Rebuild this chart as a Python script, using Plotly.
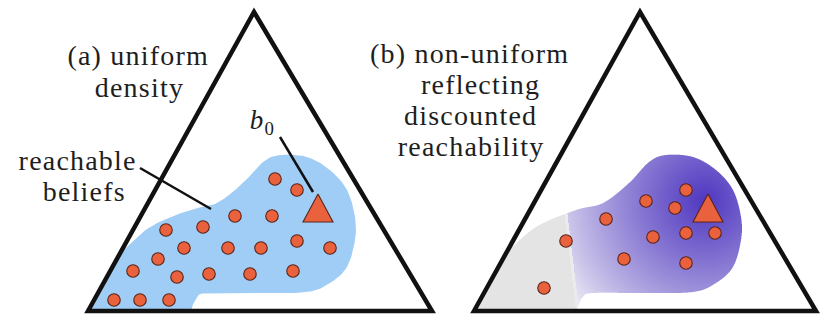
import numpy as np
import plotly.graph_objects as go
import zlib, struct, base64

W, H = 823, 317

# ---------------- data (image coordinates, y downward) ----------------
tri_a_x = [88, 254, 432]
tri_a_y = [311, 12, 311]
tri_b_x = [474, 640, 816]
tri_b_y = [311, 12, 311]

# reachable-belief region outline (panel a); panel b uses same outline shifted
blob_x = [150, 190, 217, 243, 263, 280, 307, 330, 347, 355, 355, 347, 330, 307, 257, 207, 197, 192, 191]
blob_y = [227, 210, 203, 183, 162, 155, 157, 170, 190, 217, 240, 267, 283, 292, 293, 293, 297, 307, 311]
blob_start_y = 253

dots_a_x = [275, 297, 235, 272, 166, 203, 184, 228, 261, 297, 330, 158, 133, 177, 209, 250, 293, 114, 140, 169]
dots_a_y = [179, 190, 216, 216, 230, 227, 248, 248, 248, 241, 248, 259, 271, 277, 274, 274, 271, 300, 300, 300]

dots_b_x = [686, 646, 675, 606, 566, 653, 686, 715, 624, 686, 544]
dots_b_y = [190, 201, 208, 219, 241, 237, 233, 233, 259, 263, 288]

b0_a = (318, 210)
b0_b = (708, 210)

lbl_a = [("(a) uniform", 138, 55), ("density", 139, 87)]
lbl_reach = [("reachable", 77, 160), ("beliefs", 84, 191)]
lbl_b = [("(b) non-uniform", 469, 53), ("reflecting", 480, 84), ("discounted", 470, 115), ("reachability", 471, 146)]
lbl_b0 = ("<i>b</i><sub>0</sub>", 262, 122)

reach_line_x = [140, 211]
reach_line_y = [168, 209]
b0_line_x = [280, 313]
b0_line_y = [137, 192]

BLUE = "#9fcdf5"
DOT = "#ea623d"
DOT_EDGE = "#5a2418"
FONT = "Liberation Serif"


def catmull(px, py, n=14):
    P = np.column_stack([px, py]).astype(float)
    P = np.vstack([P[0], P, P[-1]])
    out = []
    for i in range(1, len(P) - 2):
        p0, p1, p2, p3 = P[i - 1], P[i], P[i + 1], P[i + 2]
        for t in np.linspace(0, 1, n, endpoint=False):
            t2, t3 = t * t, t * t * t
            pt = 0.5 * ((2 * p1) + (-p0 + p2) * t + (2 * p0 - 5 * p1 + 4 * p2 - p3) * t2 + (-p0 + 3 * p1 - 3 * p2 + p3) * t3)
            out.append(pt)
    out.append(P[-2])
    out = np.array(out)
    return out[:, 0], out[:, 1]


def region_outline(tx, ty, dx):
    x0 = tx[0] + (ty[0] - blob_start_y) / (ty[0] - ty[1]) * (tx[1] - tx[0])
    cx, cy = catmull([x0] + [v + dx for v in blob_x], [blob_start_y] + blob_y)
    ox = np.concatenate([cx, [tx[0], x0]])
    oy = np.concatenate([cy, [ty[0], blob_start_y]])
    return ox, oy


def inside(px, py, vx, vy):
    res = np.zeros(px.shape, bool)
    n = len(vx)
    j = n - 1
    for i in range(n):
        xi, yi, xj, yj = vx[i], vy[i], vx[j], vy[j]
        cond = (yi > py) != (yj > py)
        den = (yj - yi) if (yj - yi) != 0 else 1e-9
        xint = (xj - xi) * (py - yi) / den + xi
        res ^= cond & (px < xint)
        j = i
    return res


def png_uri(rgba):
    h, w, _ = rgba.shape
    raw = b"".join(b"\x00" + rgba[r].tobytes() for r in range(h))

    def chunk(tag, data):
        c = struct.pack(">I", len(data)) + tag + data
        return c + struct.pack(">I", zlib.crc32(tag + data) & 0xffffffff)

    png = b"\x89PNG\r\n\x1a\n" + chunk(b"IHDR", struct.pack(">IIBBBBB", w, h, 8, 6, 0, 0, 0)) \
        + chunk(b"IDAT", zlib.compress(raw, 9)) + chunk(b"IEND", b"")
    return "data:image/png;base64," + base64.b64encode(png).decode()


fig = go.Figure()

# ---------- panel b gradient region (image) ----------
dxb = tri_b_x[1] - tri_a_x[1]
obx, oby = region_outline(tri_b_x, tri_b_y, dxb)
X0, X1 = int(np.floor(obx.min())) - 1, int(np.ceil(obx.max())) + 1
Y0, Y1 = int(np.floor(oby.min())) - 1, int(np.ceil(oby.max())) + 1
w, h = X1 - X0, Y1 - Y0
s = 3
sx = X0 + (np.arange(w * s) + 0.5) / s
sy = Y0 + (np.arange(h * s) + 0.5) / s
SX, SY = np.meshgrid(sx, sy)
m = inside(SX, SY, obx, oby).astype(float)
alpha = m.reshape(h, s, w, s).mean(axis=(1, 3))

cxp = X0 + np.arange(w) + 0.5
cyp = Y0 + np.arange(h) + 0.5
CX, CY = np.meshgrid(cxp, cyp)
d = np.hypot(CX - 705, CY - 200)
t = np.clip(1 - d / 165.0, 0, 1) ** 0.85
light = np.array([238, 237, 246.0])
dark = np.array([80, 56, 192.0])
rgb = light[None, None, :] + (dark - light)[None, None, :] * t[..., None]
boundary = 564 + (CY - 210) * 0.12
grey = CX < boundary
rgb[grey] = np.array([228, 228, 228.0])
band = (CX >= boundary) & (CX < boundary + 3)
rgb[band] = np.array([235, 235, 237.0])
rgba = np.zeros((h, w, 4), np.uint8)
rgba[..., :3] = np.clip(rgb, 0, 255).astype(np.uint8)
rgba[..., 3] = np.clip(alpha * 255, 0, 255).astype(np.uint8)

fig.add_trace(go.Image(source=png_uri(rgba), x0=X0 + 0.5, y0=Y0 + 0.5, dx=1, dy=1, hoverinfo="skip"))

# ---------- panel a uniform region ----------
oax, oay = region_outline(tri_a_x, tri_a_y, 0)
fig.add_trace(go.Scatter(x=oax, y=oay, mode="lines", fill="toself", fillcolor=BLUE,
                         line=dict(width=0, color=BLUE), hoverinfo="skip", showlegend=False))

# ---------- dots ----------
for xs, ys in [(dots_a_x, dots_a_y), (dots_b_x, dots_b_y)]:
    fig.add_trace(go.Scatter(x=xs, y=ys, mode="markers",
                             marker=dict(size=12.5, color=DOT, line=dict(color=DOT_EDGE, width=1.1)),
                             hoverinfo="skip", showlegend=False))

# ---------- b0 triangles ----------
for cx, cy in [b0_a, b0_b]:
    fig.add_trace(go.Scatter(x=[cx, cx + 15, cx - 15, cx], y=[cy - 16, cy + 12, cy + 12, cy - 16],
                             mode="lines", fill="toself", fillcolor=DOT,
                             line=dict(color=DOT_EDGE, width=1.1), hoverinfo="skip", showlegend=False))

# ---------- simplex triangles ----------
shapes = []
for tx, ty in [(tri_a_x, tri_a_y), (tri_b_x, tri_b_y)]:
    path = "M{},{} L{},{} L{},{} Z".format(tx[0], ty[0], tx[1], ty[1], tx[2], ty[2])
    shapes.append(dict(type="path", path=path, xref="x", yref="y",
                       line=dict(color="#111111", width=4.5)))
for lx, ly in [(reach_line_x, reach_line_y), (b0_line_x, b0_line_y)]:
    shapes.append(dict(type="line", x0=lx[0], y0=ly[0], x1=lx[1], y1=ly[1], xref="x", yref="y",
                       line=dict(color="#111111", width=2.5)))

anns = []
for txt, x, y in lbl_a + lbl_reach + lbl_b:
    anns.append(dict(text=txt, x=x, y=y, xref="x", yref="y", showarrow=False,
                     xanchor="center", yanchor="middle",
                     font=dict(family=FONT, size=28, color="#1e1e1e")))
anns.append(dict(text=lbl_b0[0], x=lbl_b0[1], y=lbl_b0[2], xref="x", yref="y", showarrow=False,
                 xanchor="center", yanchor="middle",
                 font=dict(family=FONT, size=27, color="#1e1e1e")))

fig.update_layout(
    width=W, height=H, margin=dict(l=0, r=0, t=0, b=0),
    paper_bgcolor="white", plot_bgcolor="white",
    xaxis=dict(range=[0, W], visible=False, fixedrange=True),
    yaxis=dict(range=[H, 0], visible=False, fixedrange=True),
    shapes=shapes, annotations=anns, showlegend=False,
)

post = ("document.body.style.margin='0';document.body.style.overflow='hidden';"
        "document.querySelectorAll('text.annotation-text').forEach(function(e){"
        "if(e.textContent.length>3){e.style.letterSpacing='1.2px';}});")
fig.write_html("out.html", config={"displayModeBar": False}, post_script=post)
